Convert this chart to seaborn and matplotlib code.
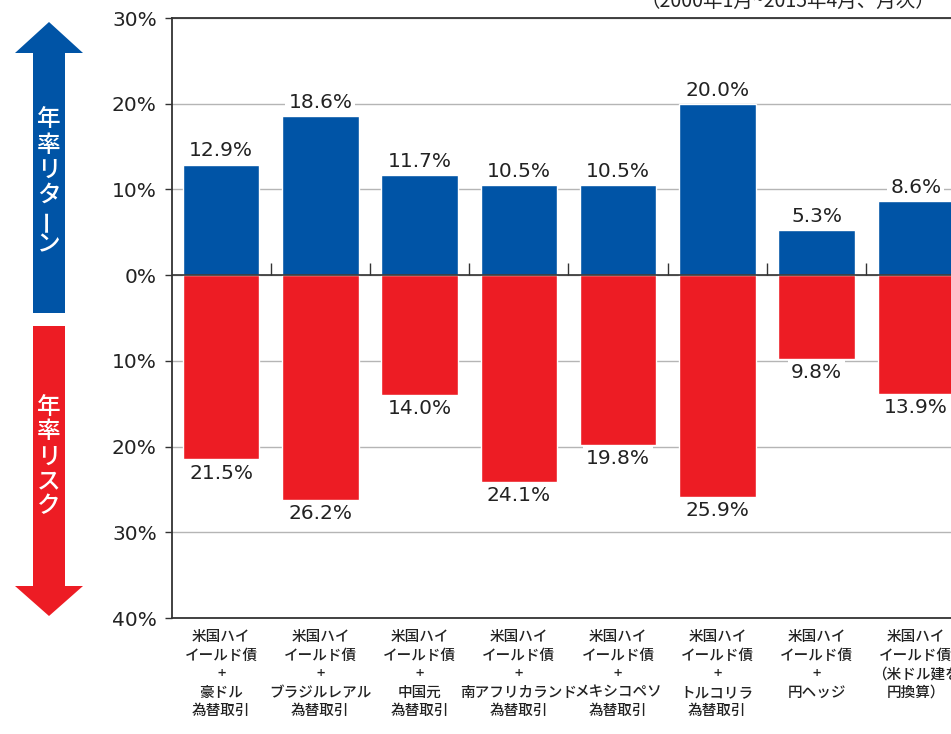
import numpy as np
import matplotlib
matplotlib.use('Agg')
import matplotlib.pyplot as plt
from matplotlib.patches import Polygon
from matplotlib.ticker import FixedLocator, FuncFormatter
import seaborn as sns

categories = [
    '米国ハイ\nイールド債\n+\n豪ドル\n為替取引',
    '米国ハイ\nイールド債\n+\nブラジルレアル\n為替取引',
    '米国ハイ\nイールド債\n+\n中国元\n為替取引',
    '米国ハイ\nイールド債\n+\n南アフリカランド\n為替取引',
    '米国ハイ\nイールド債\n+\nメキシコペソ\n為替取引',
    '米国ハイ\nイールド債\n+\nトルコリラ\n為替取引',
    '米国ハイ\nイールド債\n+\n円ヘッジ',
    '米国ハイ\nイールド債\n（米ドル建を\n円換算）',
]
returns = [12.9, 18.6, 11.7, 10.5, 10.5, 20.0, 5.3, 8.6]
risks = [21.5, 26.2, 14.0, 24.1, 19.8, 25.9, 9.8, 13.9]
yticks = [30, 20, 10, 0, -10, -20, -30, -40]
period_note = '（2000年1月~2015年4月、月次）'

blue = '#0054A6'
red = '#ED1C24'
dark = '#333333'

sns.set_style('white')
plt.rcParams['font.family'] = ['DejaVu Sans', 'Noto Sans CJK JP']

W, H = 951, 734
fig = plt.figure(figsize=(W / 100, H / 100), dpi=100)
ax = fig.add_axes([172 / W, (H - 618) / H, (W - 172) / W, 600 / H])

sns.barplot(x=categories, y=returns, color=blue, saturation=1, width=0.77, ax=ax, zorder=2)
sns.barplot(x=categories, y=[-r for r in risks], color=red, saturation=1, width=0.77, ax=ax, zorder=2)

ax.set_ylim(-40, 30)
ax.set_xlim(-0.495, 7.354)
ax.yaxis.set_major_locator(FixedLocator(yticks))
ax.yaxis.set_major_formatter(FuncFormatter(lambda v, p: f'{abs(v):.0f}%'))
ax.tick_params(axis='y', length=5, width=1, color=dark, labelsize=14.5, labelcolor='#222222', pad=6, left=True)
ax.tick_params(axis='x', length=0, pad=9)
ax.set_xticks(range(len(categories)))
ax.set_xticklabels(categories, family=['Noto Sans CJK JP'], fontsize=10.5, fontweight='medium',
                   linespacing=1.4, color='#222222')
ax.set_xlabel('')
ax.set_ylabel('')

ax.grid(axis='y', color='#b5b5b5', lw=1)
ax.set_axisbelow(True)
for s in ['left', 'top', 'bottom']:
    ax.spines[s].set_color(dark)
    ax.spines[s].set_linewidth(1.3)
ax.spines['right'].set_visible(False)
ax.axhline(0, color=dark, lw=1.2, zorder=3)

# small ticks on the zero line between categories
ax.vlines(np.arange(len(categories) - 1) + 0.5, 0, 1.4, color=dark, lw=1, zorder=3)

for i, (r, k) in enumerate(zip(returns, risks)):
    ax.annotate(f'{r:.1f}%', (i, r), xytext=(0, 3), textcoords='offset points',
                ha='center', va='bottom', fontsize=14.5, color='#222222', zorder=4,
                bbox=dict(boxstyle='square,pad=0.15', fc='white', ec='none'))
    ax.annotate(f'{k:.1f}%', (i, -k), xytext=(0, -3), textcoords='offset points',
                ha='center', va='top', fontsize=14.5, color='#222222', zorder=4,
                bbox=dict(boxstyle='square,pad=0.15', fc='white', ec='none'))

# left arrows drawn on an overlay in pixel coordinates
ov = fig.add_axes([0, 0, 1, 1], zorder=-1)
ov.set_xlim(0, W)
ov.set_ylim(H, 0)
ov.axis('off')
ov.add_patch(Polygon([(49, 22), (83, 53), (65, 53), (65, 313), (33, 313), (33, 53), (15, 53)],
                     closed=True, fc=blue, ec='none'))
ov.add_patch(Polygon([(49, 616), (83, 586), (65, 586), (65, 326), (33, 326), (33, 586), (15, 586)],
                     closed=True, fc=red, ec='none'))
for j, ch in enumerate('年率リターン'):
    ov.text(49, 120 + j * 25, ch, ha='center', va='center', color='white', fontsize=17,
            fontweight='medium', family=['Noto Sans CJK JP'], rotation=90 if ch == 'ー' else 0)
for j, ch in enumerate('年率リスク'):
    ov.text(49, 407 + j * 25, ch, ha='center', va='center', color='white', fontsize=17,
            fontweight='medium', family=['Noto Sans CJK JP'])

fig.text(640 / W, 1 - 1 / H, period_note, ha='left', va='center', fontsize=14,
         family=['Noto Sans CJK JP'], color='#222222')

fig.savefig('out.png', dpi=100)
